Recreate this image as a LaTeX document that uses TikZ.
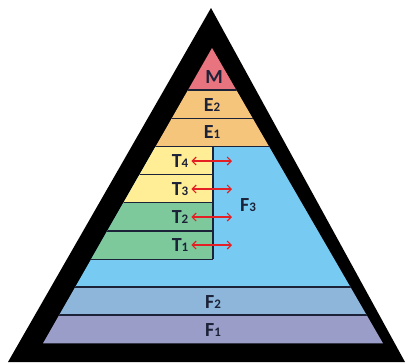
\documentclass[tikz,border=0pt]{standalone}
\usepackage{fontspec}
\setmainfont{Carlito}
\usetikzlibrary{arrows.meta}
\definecolor{mpink}{RGB}{232,116,128}
\definecolor{eorange}{RGB}{246,197,124}
\definecolor{tyellow}{RGB}{255,238,150}
\definecolor{tgreen}{RGB}{126,201,156}
\definecolor{fblue}{RGB}{119,202,242}
\definecolor{fsteel}{RGB}{141,182,218}
\definecolor{fviolet}{RGB}{155,157,201}
\definecolor{ink}{RGB}{28,34,56}
\definecolor{arrowred}{RGB}{228,32,36}
\tikzset{
  lvl/.style={font=\bfseries\fontsize{20}{20}\selectfont, text=ink, inner sep=1pt},
  sep/.style={draw=ink, line width=1.1pt},
  twoway/.style={arrowred, line width=1.1pt, {Straight Barb[length=4pt,width=8pt]}-{Straight Barb[length=4pt,width=8pt]}, shorten <=2pt}
}
\newcommand{\lvnum}[1]{{\fontsize{13}{13}\selectfont #1}}
\begin{document}
\begin{tikzpicture}[x=1pt,y=-1pt]
\useasboundingbox (0,0) rectangle (409,362);
\fill (211,8) -- (405,362) -- (8,362) -- cycle;
\begin{scope}
\clip (212,48) -- (383,343.3) -- (43,343.3) -- cycle;
\fill[mpink] (0,40) rectangle (409,90);
\fill[eorange] (0,90) rectangle (409,146.7);
\fill[fblue] (0,146.7) rectangle (409,287);
\fill[tyellow] (0,146.7) rectangle (213,202.7);
\fill[tgreen] (0,202.7) rectangle (213,259.3);
\fill[fsteel] (0,287) rectangle (409,315);
\fill[fviolet] (0,315) rectangle (409,345);
\draw[sep] (0,90) -- (409,90) (0,118.3) -- (409,118.3) (0,146.7) -- (409,146.7)
  (0,287) -- (409,287) (0,315) -- (409,315);
\draw[sep] (0,174.3) -- (213,174.3) (0,202.7) -- (213,202.7) (0,231) -- (213,231)
  (0,259.3) -- (213,259.3) (213,146.7) -- (213,259.3);
\end{scope}

\node[lvl] (m) at (214,77) {M};
\node[lvl] (e2) at (212,105) {E\lvnum{2}};
\node[lvl] (e1) at (212,132) {E\lvnum{1}};
\node[lvl] (t4) at (180,161) {T\lvnum{4}};
\node[lvl] (t3) at (180,189) {T\lvnum{3}};
\node[lvl] (t2) at (180,217) {T\lvnum{2}};
\node[lvl] (t1) at (180,245) {T\lvnum{1}};
\node[lvl] (f3) at (248,205) {F\lvnum{3}};
\node[lvl] (f2) at (213,302) {F\lvnum{2}};
\node[lvl] (f1) at (213,330) {F\lvnum{1}};

\coordinate (r4) at (232,161);
\coordinate (r3) at (232,189);
\coordinate (r2) at (232,217);
\coordinate (r1) at (232,245);
\draw[twoway] (t4) -- (r4);
\draw[twoway] (t3) -- (r3);
\draw[twoway] (t2) -- (r2);
\draw[twoway] (t1) -- (r1);
\end{tikzpicture}
\end{document}
